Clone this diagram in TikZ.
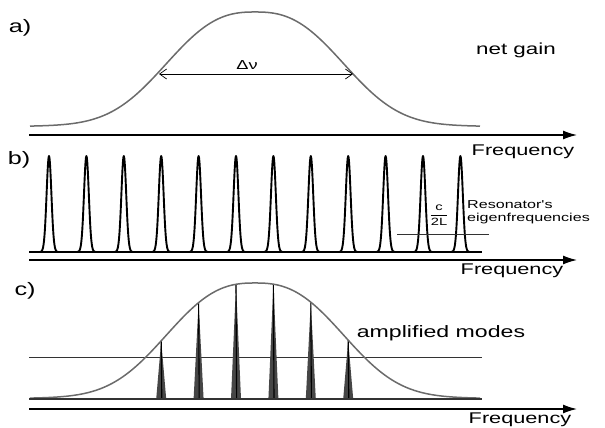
\documentclass[tikz,border=0pt]{standalone}
\usepackage{fontspec}
\newfontfamily\labelfont[FakeStretch=1.4]{Liberation Sans}
\usetikzlibrary{arrows.meta}

\tikzset{
  declare function={gain(\x)=0.96*exp(-1*pow(abs(\x-255)/107,2.6))+0.04*exp(-1*pow((\x-255)/170,2));},
  lbl/.style={font=\labelfont\fontsize{#1}{#1}\selectfont, inner sep=0pt},
  gaincurve/.style={black!58, line width=1.5pt},
  axis/.style={line width=1.4pt, -{Latex[length=14pt,width=9pt]}},
  comb/.style={line width=1.9pt, line join=round},
  thinline/.style={line width=.6pt, black!80},
}

\begin{document}
\begin{tikzpicture}[x=1pt,y=-1pt]
  \useasboundingbox (0,0) rectangle (605,428);
  % frequency axes
  \foreach \p/\y in {a/135,b/260,c/409} {
    \coordinate (\p0) at (29,\y);
    \coordinate (\p1) at (577,\y);
    \draw[axis] (\p0) -- (\p1);
  }
  \foreach \p/\x/\y in {a/523/152,b/512/271,c/520/420}
    \node[lbl=15.5] (freq\p) at (\x,\y) {Frequency};
  \node[lbl=18] (la) at (20,28) {a)};
  \node[lbl=18] (lb) at (19,160) {b)};
  \node[lbl=18] (lc) at (25,291) {c)};

  % a) net gain
  \draw[gaincurve] plot[domain=30:480,samples=200] (\x,{127-115*gain(\x)});
  \coordinate (hl) at (159,74);
  \coordinate (hr) at (353,74);
  \draw[line width=.7pt, {Straight Barb[length=7pt,width=10pt]}-{Straight Barb[length=7pt,width=10pt]}] (hl) -- (hr);
  \node[lbl=13] (dnu) at (247,65) {Δν};
  \node[lbl=16] (net) at (516,50) {net gain};

  % b) resonator comb
  \coordinate (b2) at (29,252);
  \coordinate (b3) at (482,252);
  \draw[comb] (b2) -- (b3);
  \foreach \k in {0,...,11}
    \draw[comb] plot[domain=-9:9,samples=41] ({49+37.4*\k+\x},{252-96*exp(-1*pow(\x/3.4,2))});
  \coordinate (s0) at (397,234);
  \coordinate (s1) at (489,234);
  \draw[thinline] (s0) -- (s1);
  \node[lbl=10.5] (fsr) at (439,215) {$\displaystyle\frac{\mbox{c}}{\mbox{2L}}$};
  \node[lbl=11.5, anchor=west] (reso) at (467,205) {Resonator's};
  \node[lbl=11.5, anchor=west] (eigen) at (467,219) {eigenfrequencies};

  % c) amplified modes
  \coordinate (c2) at (29,399);
  \coordinate (c3) at (482,399);
  \coordinate (t0) at (29,357);
  \coordinate (t1) at (482,357);
  \draw[thinline] (t0) -- (t1);
  \foreach \k in {3,...,8} {
    \pgfmathsetmacro\m{49+37.4*\k}
    \pgfmathsetmacro\h{399-116*gain(\m)}
    \fill[gray!55!black] (\m-5,399) -- (\m,\h) -- (\m+5,399) -- cycle;
    \draw[line width=1.1pt] (\m+.6,399) -- (\m,\h);
  }
  \draw[gaincurve] plot[domain=30:480,samples=200] (\x,{399-116*gain(\x)});
  \draw[line width=1.6pt, black!80] (c2) -- (c3);
  \node[lbl=16.5] (amp) at (441,333) {amplified modes};
\end{tikzpicture}
\end{document}
